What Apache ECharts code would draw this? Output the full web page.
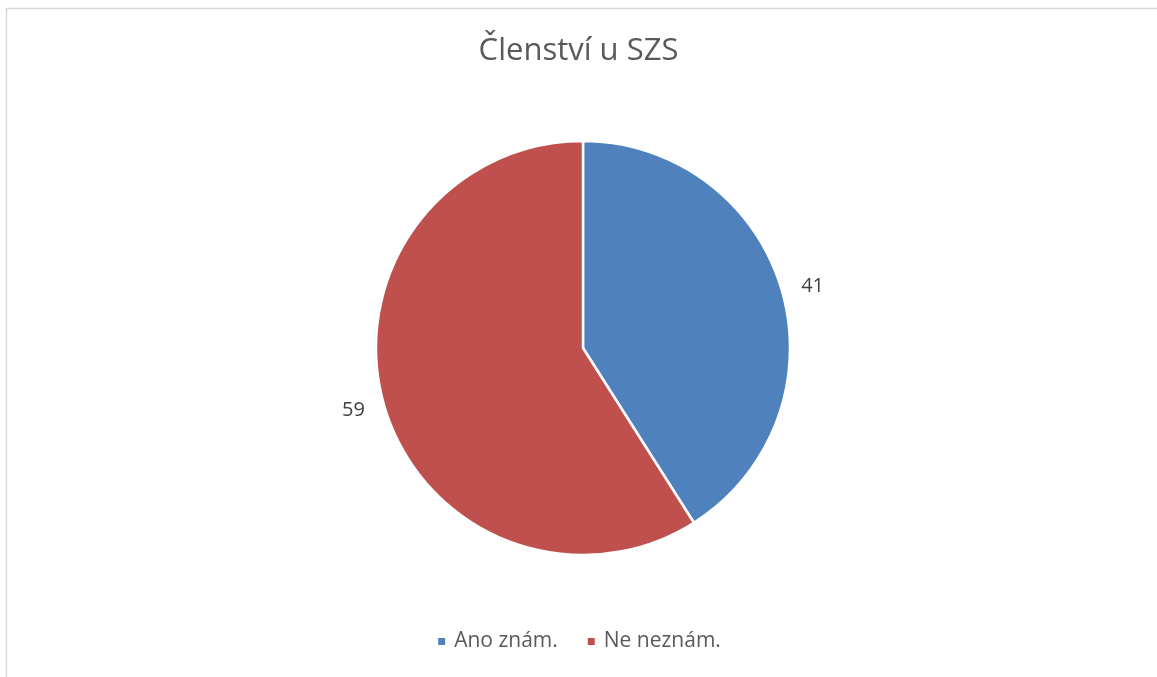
<!DOCTYPE html>
<html>
<head>
<meta charset="utf-8">
<script src="https://cdn.jsdelivr.net/npm/echarts@6/dist/echarts.min.js"></script>
<style>
  html, body { margin: 0; padding: 0; background: #fff; }
  #chart { width: 1157px; height: 677px; }
</style>
</head>
<body>
<div id="chart"></div>
<script>
var categories = ['Ano znám.', 'Ne neznám.'];
var values = [41, 59];
var colors = ['#4F81BD', '#C0504D'];

var chart = echarts.init(document.getElementById('chart'));

var pieData = categories.map(function (name, i) {
    return { name: name, value: values[i], itemStyle: { color: colors[i] } };
});

var option = {
    animation: false,
    backgroundColor: '#fff',
    title: {
        text: 'Členství u SZS',
        left: 'center',
        top: 31,
        textStyle: {
            fontFamily: 'Open Sans',
            fontSize: 31,
            fontWeight: 'normal',
            color: '#595959'
        }
    },
    legend: {
        bottom: 20,
        left: 'center',
        itemWidth: 9,
        itemHeight: 9,
        itemGap: 28,
        icon: 'rect',
        textStyle: {
            fontFamily: 'Open Sans',
            fontSize: 21,
            color: '#595959',
            padding: [0, 0, 0, 3]
        },
        data: categories
    },
    graphic: [{
        type: 'rect',
        shape: { x: 6.5, y: 8.5, width: 1200, height: 700 },
        style: { fill: 'none', stroke: '#d9d9d9', lineWidth: 1.5 },
        silent: true
    }],
    series: [{
        type: 'pie',
        center: [583, 348],
        radius: [0, 207],
        startAngle: 90,
        clockwise: true,
        itemStyle: { borderColor: '#fff', borderWidth: 2.5 },
        label: {
            show: true,
            position: 'outside',
            formatter: '{c}',
            fontFamily: 'Open Sans',
            fontSize: 20,
            color: '#404040'
        },
        labelLine: { show: false, length: 15, length2: 0 },
        emphasis: { disabled: true },
        data: pieData
    }]
};

chart.setOption(option);
</script>
</body>
</html>
